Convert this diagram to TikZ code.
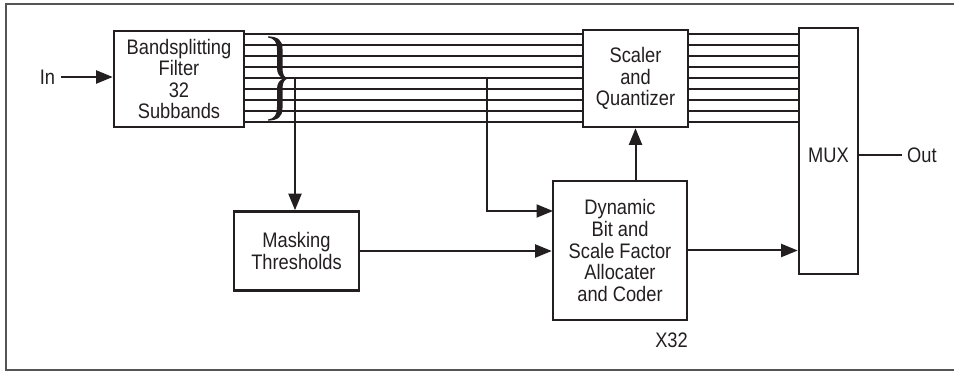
\documentclass[tikz,border=0pt]{standalone}
\usepackage{fontspec}
\setmainfont{Liberation Sans}[FakeStretch=0.87]
\usetikzlibrary{arrows.meta,calc}
\definecolor{ink}{HTML}{231F20}
\definecolor{framec}{HTML}{555555}
\begin{document}
\begin{tikzpicture}[x=1pt,y=-1pt,
  box/.style={draw=ink,line width=2.6pt,fill=white,inner sep=0pt,align=center,text=ink,
    font=\fontsize{21}{21.6}\selectfont},
  lbl/.style={inner sep=0pt,text=ink,font=\fontsize{21}{21.6}\selectfont},
  sub/.style={draw=ink,line width=2pt},
  arr/.style={draw=ink,line width=2pt,-{Triangle[length=16.5pt,width=13pt]}},
  wire/.style={draw=ink,line width=2pt}]
\useasboundingbox (0,0) rectangle (954,371);
% frame
\draw[framec,line width=1.5pt] (954,4) -- (6,4) -- (6,370) -- (954,370);
% boxes
\node[box,minimum width=130pt,minimum height=96pt] (band) at (179,79) {Bandsplitting\\Filter\\32\\Subbands};
\node[box,minimum width=105pt,minimum height=97pt] (scal) at (635.5,78.5) {Scaler\\and\\Quantizer};
\node[box,minimum width=59pt,minimum height=246pt] (mux) at (828.5,151) {};
\node[lbl] (muxt) at (828.5,155) {MUX};
\node[box,minimum width=125pt,minimum height=79pt] (mask) at (296.5,251) {Masking\\Thresholds};
\node[box,minimum width=134pt,minimum height=139pt] (dyn) at (620,250.5) {Dynamic\\Bit and\\Scale Factor\\Allocater\\and Coder};
% subband lines
\foreach \i in {0,...,8} {
  \pgfmathsetmacro\yy{34.5+11*\i}
  \draw[sub] (band.east |- 0,\yy) -- (scal.west |- 0,\yy);
  \draw[sub] (scal.east |- 0,\yy) -- (mux.west |- 0,\yy);
}
% brace
\fill[ink] (268,36.3) .. controls (278,36.8) and (282.5,40) .. (282.5,49)
  -- (282.5,69) .. controls (282.5,74.5) and (284.5,77.5) .. (288,78.5)
  .. controls (284.5,79.5) and (282.5,82.5) .. (282.5,88)
  -- (282.5,108) .. controls (282.5,117) and (278,120.2) .. (268,120.7)
  -- (268,119.5) .. controls (274.5,118.5) and (277,115) .. (277,107)
  -- (277,89) .. controls (277,83.5) and (279.5,80) .. (283.5,78.5)
  .. controls (279.5,77) and (277,73.5) .. (277,68)
  -- (277,50) .. controls (277,42) and (274.5,38.5) .. (268,37.5) -- cycle;
% taps
\coordinate (t1) at (295,78.5);
\coordinate (t2) at (487,78.5);
\coordinate (d1) at (553,211);
\draw[arr] (t1) -- (t1 |- mask.north);
\draw[arr] (t2) |- (d1);
\draw[arr] (mask.east) -- (dyn.west |- mask.east);
\draw[arr] (scal.south |- dyn.north) -- (scal.south);
\draw[arr] (dyn.east) -- (mux.west |- dyn.east);
% in / out
\node[lbl] (in) at (47.5,77) {In};
\draw[arr] ([xshift=6pt]in.east) -- (band.west |- in.east);
\node[lbl,anchor=west] (out) at (907,155) {Out};
\draw[wire] (mux.east |- out.west) -- ([xshift=-5pt]out.west);
\node[lbl,anchor=east] (x32) at (688,340) {X32};
\end{tikzpicture}
\end{document}
